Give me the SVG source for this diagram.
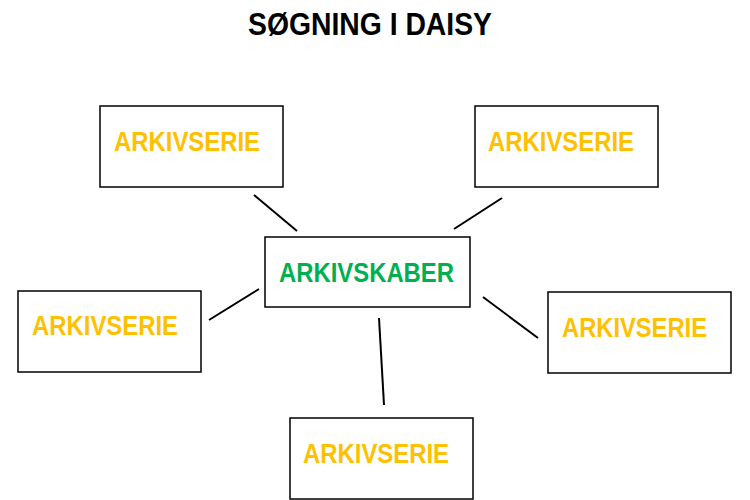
<svg xmlns="http://www.w3.org/2000/svg" width="750" height="500" viewBox="0 0 750 500">
<style>
.box{fill:#fff;stroke:#000;stroke-width:1.5}
.lbl{font-family:"Liberation Sans",Arial,sans-serif;font-weight:bold;font-size:27px}
.ser{fill:#FFC000}
.cr{fill:#00B050}
.con{stroke:#000;stroke-width:2;fill:none}
.title{font-family:"Liberation Sans",Arial,sans-serif;font-weight:bold;font-size:31px;fill:#000}
</style>
<rect width="750" height="500" fill="#fff"/>
<text class="title" x="248" y="35" textLength="244" lengthAdjust="spacingAndGlyphs">SØGNING I DAISY</text>
<g id="connectors">
<line class="con" x1="254" y1="195" x2="297" y2="231"/>
<line class="con" x1="502" y1="198" x2="454" y2="229"/>
<line class="con" x1="259" y1="289" x2="209" y2="320"/>
<line class="con" x1="483" y1="297" x2="538" y2="338"/>
<line class="con" x1="379" y1="318" x2="384" y2="405"/>
</g>
<g id="center">
<rect class="box" x="265" y="237" width="205" height="70"/>
<text class="lbl cr" x="279" y="282" textLength="175" lengthAdjust="spacingAndGlyphs">ARKIVSKABER</text>
</g>
<g id="series-tl">
<rect class="box" x="100" y="106" width="183" height="81"/>
<text class="lbl ser" x="114" y="151" textLength="146" lengthAdjust="spacingAndGlyphs">ARKIVSERIE</text>
</g>
<g id="series-tr">
<rect class="box" x="475" y="106" width="183" height="81"/>
<text class="lbl ser" x="488" y="151" textLength="146" lengthAdjust="spacingAndGlyphs">ARKIVSERIE</text>
</g>
<g id="series-l">
<rect class="box" x="18" y="291" width="183" height="81"/>
<text class="lbl ser" x="32" y="335" textLength="146" lengthAdjust="spacingAndGlyphs">ARKIVSERIE</text>
</g>
<g id="series-r">
<rect class="box" x="548" y="292" width="183" height="81"/>
<text class="lbl ser" x="562" y="337" textLength="145" lengthAdjust="spacingAndGlyphs">ARKIVSERIE</text>
</g>
<g id="series-b">
<rect class="box" x="290" y="418" width="183" height="81"/>
<text class="lbl ser" x="303" y="463" textLength="146" lengthAdjust="spacingAndGlyphs">ARKIVSERIE</text>
</g>
</svg>
